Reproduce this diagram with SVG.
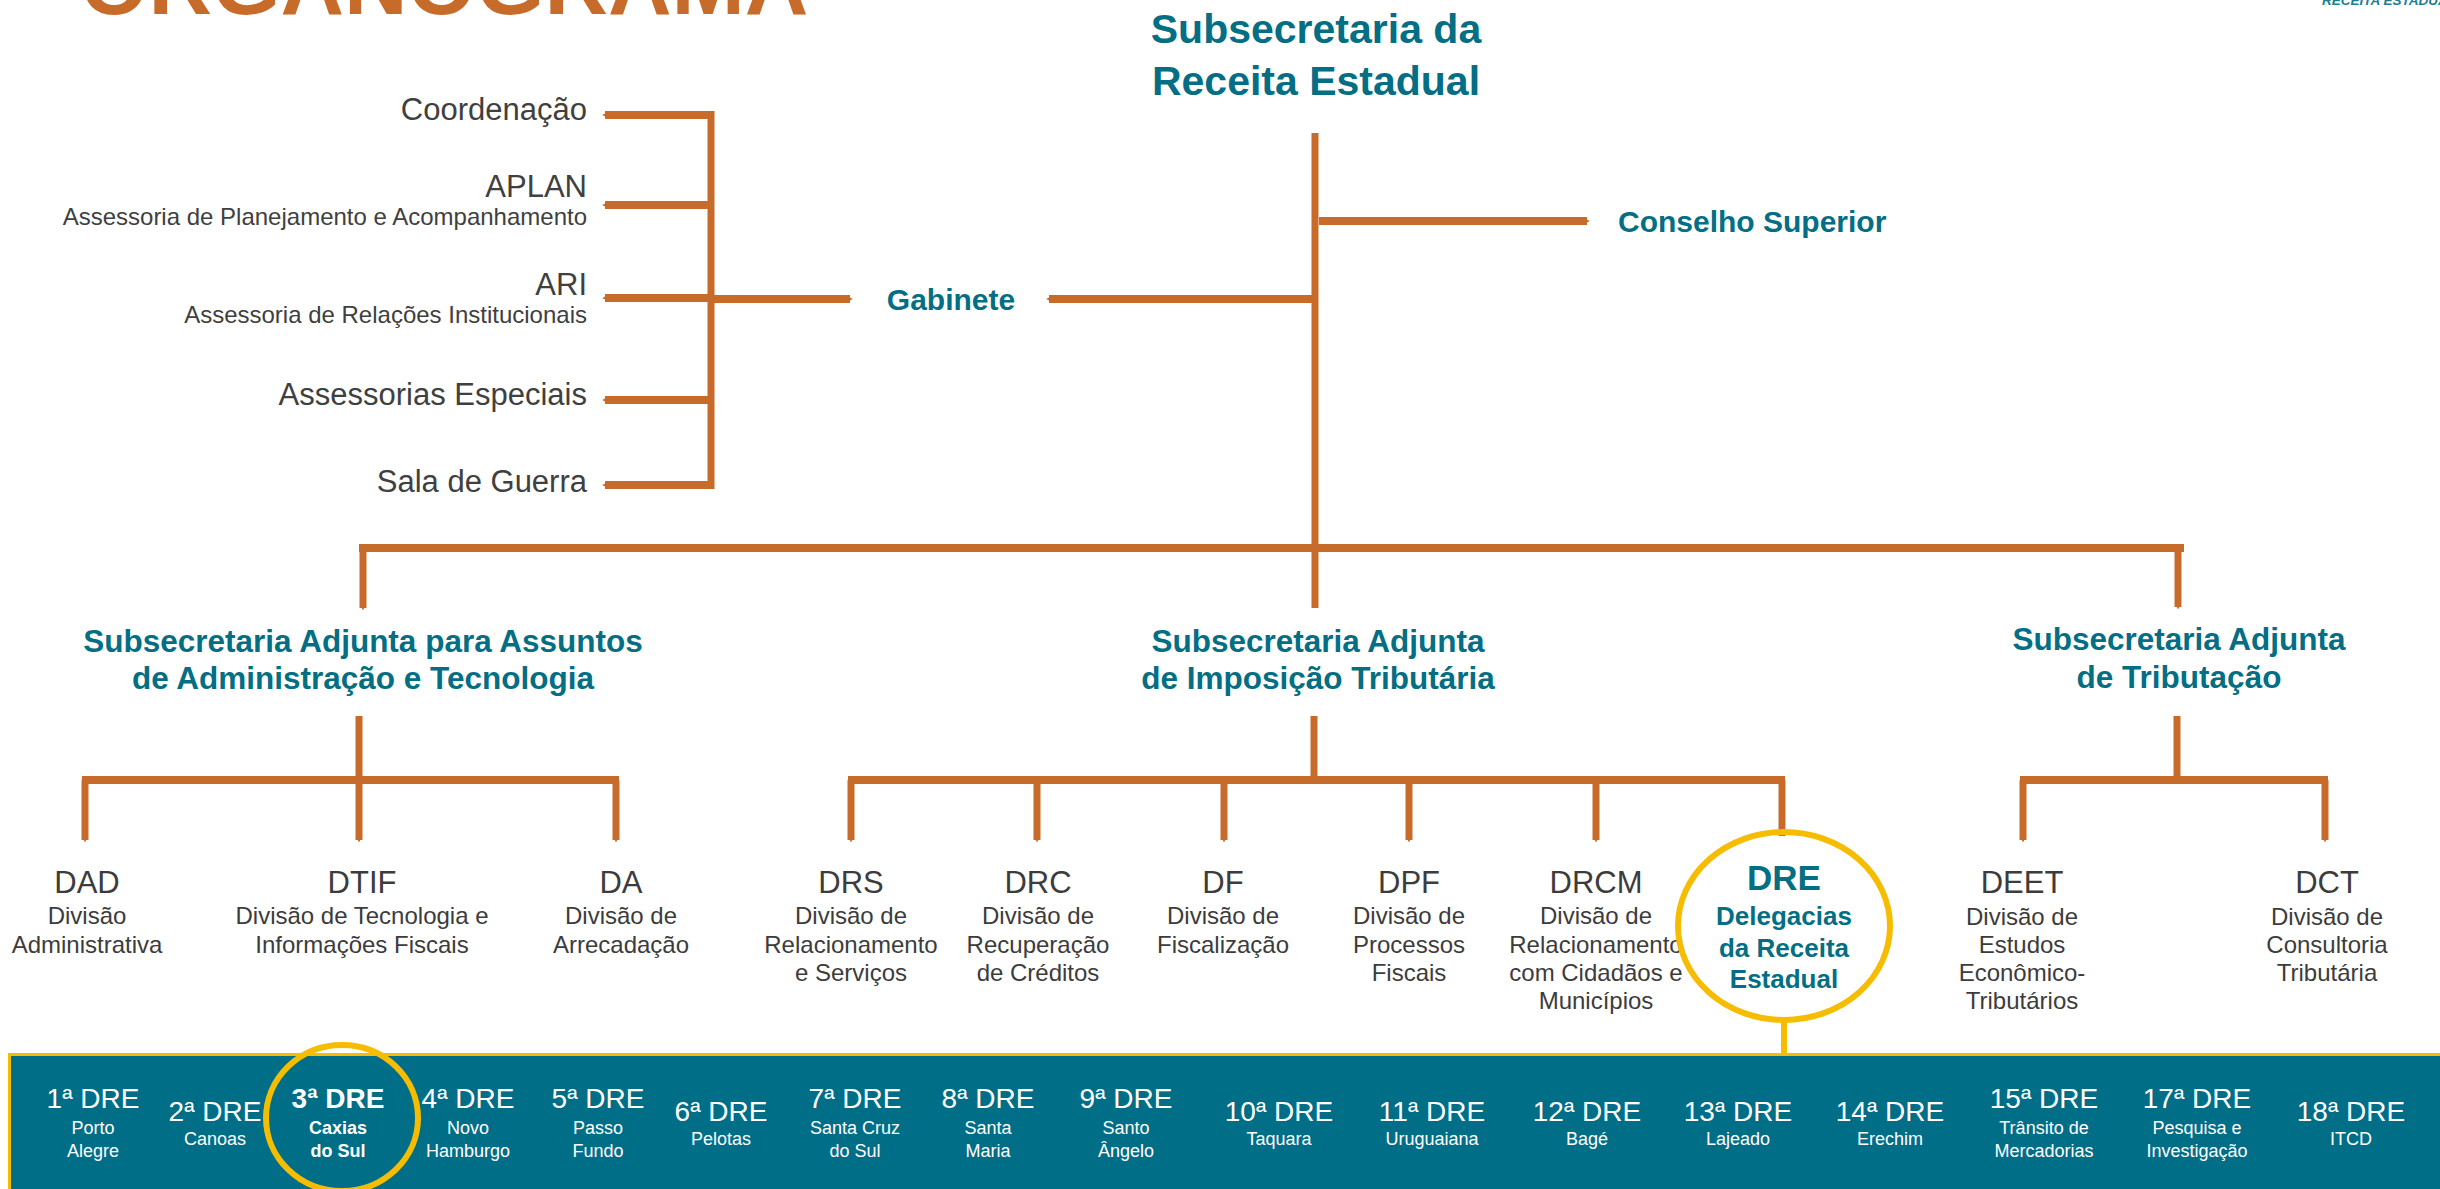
<svg xmlns="http://www.w3.org/2000/svg" width="2440" height="1189" viewBox="0 0 2440 1189">
<style>
.c{fill:none;stroke:#c76b2b;stroke-width:7}
.cb{fill:none;stroke:#c76b2b;stroke-width:8}
.t{font-family:"Liberation Sans",Arial,sans-serif}
.hd{font-family:"Liberation Sans",Arial,sans-serif;font-weight:bold;fill:#046e84;text-anchor:middle}
.gl{font-family:"Liberation Sans",Arial,sans-serif;fill:#404040;text-anchor:end}
.dh{font-family:"Liberation Sans",Arial,sans-serif;fill:#3c3c3c;text-anchor:middle;font-size:31px}
.ds{font-family:"Liberation Sans",Arial,sans-serif;fill:#3c3c3c;text-anchor:middle;font-size:24px}
.bh{font-family:"Liberation Sans",Arial,sans-serif;fill:#ffffff;text-anchor:middle;font-size:28px}
.bs{font-family:"Liberation Sans",Arial,sans-serif;fill:#ffffff;text-anchor:middle;font-size:18px}
.y{fill:none;stroke:#f6bd00;stroke-width:6}
</style>
<defs>
<marker id="tip" viewBox="0 0 1 1" refX="0" refY="0.5" markerWidth="0.35" markerHeight="1" orient="auto" markerUnits="strokeWidth">
<path d="M0,0 L1,0.5 L0,1 z" fill="#c76b2b"/>
</marker>
</defs>
<rect width="2440" height="1189" fill="#ffffff"/>

<g id="title">
<text x="80" y="14" class="t" font-size="88" font-weight="bold" fill="#c76b2b">ORGANOGRAMA</text>
</g>
<g id="logo">
<text x="2322" y="5" class="t" font-size="13.5" font-weight="bold" font-style="italic" fill="#1a7f92">RECEITA ESTADUAL</text>
</g>

<g id="connectors">
<path class="c" d="M1315,133 V608"/>
<path class="cb" d="M1319,221 H1587" marker-end="url(#tip)"/>
<path class="cb" d="M1315,299 H1049" marker-end="url(#tip)"/>
<path class="cb" d="M711,299 H850" marker-end="url(#tip)"/>
<path class="c" d="M711,111 V489"/>
<path class="cb" d="M711,115 H605" marker-end="url(#tip)"/>
<path class="cb" d="M711,205 H605" marker-end="url(#tip)"/>
<path class="cb" d="M711,298 H605" marker-end="url(#tip)"/>
<path class="cb" d="M711,400 H605" marker-end="url(#tip)"/>
<path class="cb" d="M711,485 H605" marker-end="url(#tip)"/>
<path class="cb" d="M359,548 H2184"/>
<path class="c" d="M363,548 V608" marker-end="url(#tip)"/>
<path class="c" d="M2178,548 V607" marker-end="url(#tip)"/>

<path class="c" d="M359,716 V840" marker-end="url(#tip)"/>
<path class="cb" d="M82,780 H619"/>
<path class="c" d="M85,780 V840" marker-end="url(#tip)"/>
<path class="c" d="M616,780 V840" marker-end="url(#tip)"/>

<path class="c" d="M1314,716 V780"/>
<path class="cb" d="M848,780 H1785"/>
<path class="c" d="M851,780 V840" marker-end="url(#tip)"/>
<path class="c" d="M1037,780 V840" marker-end="url(#tip)"/>
<path class="c" d="M1224,780 V840" marker-end="url(#tip)"/>
<path class="c" d="M1409,780 V840" marker-end="url(#tip)"/>
<path class="c" d="M1596,780 V840" marker-end="url(#tip)"/>
<path class="c" d="M1782,780 V836"/>

<path class="c" d="M2177,716 V780"/>
<path class="cb" d="M2020,780 H2328"/>
<path class="c" d="M2023,780 V840" marker-end="url(#tip)"/>
<path class="c" d="M2325,780 V840" marker-end="url(#tip)"/>

<path class="y" d="M1784,1020 V1055"/>
</g>

<g id="n-srE">
<text class="hd" font-size="41" x="1316" y="43">Subsecretaria da</text>
<text class="hd" font-size="41" x="1316" y="95">Receita Estadual</text>
</g>
<g id="n-conselho">
<text class="t" font-size="30" font-weight="bold" fill="#046e84" x="1618" y="232">Conselho Superior</text>
</g>
<g id="n-gabinete">
<text class="hd" font-size="30" x="951" y="310">Gabinete</text>
</g>
<g id="n-coord"><text class="gl" font-size="31" x="587" y="120">Coordenação</text></g>
<g id="n-aplan">
<text class="gl" font-size="31" x="587" y="197">APLAN</text>
<text class="gl" font-size="24" x="587" y="225">Assessoria de Planejamento e Acompanhamento</text>
</g>
<g id="n-ari">
<text class="gl" font-size="31" x="587" y="295">ARI</text>
<text class="gl" font-size="24" x="587" y="323">Assessoria de Relações Institucionais</text>
</g>
<g id="n-ae"><text class="gl" font-size="31" x="587" y="405">Assessorias Especiais</text></g>
<g id="n-sg"><text class="gl" font-size="31" x="587" y="492">Sala de Guerra</text></g>

<g id="n-saat">
<text class="hd" font-size="31.5" x="363" y="652">Subsecretaria Adjunta para Assuntos</text>
<text class="hd" font-size="31.5" x="363" y="689">de Administração e Tecnologia</text>
</g>
<g id="n-sait">
<text class="hd" font-size="31.5" x="1318" y="652">Subsecretaria Adjunta</text>
<text class="hd" font-size="31.5" x="1318" y="689">de Imposição Tributária</text>
</g>
<g id="n-sat">
<text class="hd" font-size="31.5" x="2179" y="650">Subsecretaria Adjunta</text>
<text class="hd" font-size="31.5" x="2179" y="688">de Tributação</text>
</g>

<g id="n-dad"><text class="dh" x="87" y="893">DAD</text><text class="ds" x="87" y="924">Divisão</text><text class="ds" x="87" y="953">Administrativa</text></g>
<g id="n-dtif"><text class="dh" x="362" y="893">DTIF</text><text class="ds" x="362" y="924">Divisão de Tecnologia e</text><text class="ds" x="362" y="953">Informações Fiscais</text></g>
<g id="n-da"><text class="dh" x="621" y="893">DA</text><text class="ds" x="621" y="924">Divisão de</text><text class="ds" x="621" y="953">Arrecadação</text></g>
<g id="n-drs"><text class="dh" x="851" y="893">DRS</text><text class="ds" x="851" y="924">Divisão de</text><text class="ds" x="851" y="953">Relacionamento</text><text class="ds" x="851" y="981">e Serviços</text></g>
<g id="n-drc"><text class="dh" x="1038" y="893">DRC</text><text class="ds" x="1038" y="924">Divisão de</text><text class="ds" x="1038" y="953">Recuperação</text><text class="ds" x="1038" y="981">de Créditos</text></g>
<g id="n-df"><text class="dh" x="1223" y="893">DF</text><text class="ds" x="1223" y="924">Divisão de</text><text class="ds" x="1223" y="953">Fiscalização</text></g>
<g id="n-dpf"><text class="dh" x="1409" y="893">DPF</text><text class="ds" x="1409" y="924">Divisão de</text><text class="ds" x="1409" y="953">Processos</text><text class="ds" x="1409" y="981">Fiscais</text></g>
<g id="n-drcm"><text class="dh" x="1596" y="893">DRCM</text><text class="ds" x="1596" y="924">Divisão de</text><text class="ds" x="1596" y="953">Relacionamento</text><text class="ds" x="1596" y="981">com Cidadãos e</text><text class="ds" x="1596" y="1009">Municípios</text></g>
<g id="n-dre">
<ellipse class="y" cx="1784" cy="926" rx="106" ry="94"/>
<text class="hd" font-size="35" x="1784" y="890">DRE</text>
<text class="hd" font-size="26" x="1784" y="925">Delegacias</text>
<text class="hd" font-size="26" x="1784" y="957">da Receita</text>
<text class="hd" font-size="26" x="1784" y="988">Estadual</text>
</g>
<g id="n-deet"><text class="dh" x="2022" y="893">DEET</text><text class="ds" x="2022" y="925">Divisão de</text><text class="ds" x="2022" y="953">Estudos</text><text class="ds" x="2022" y="981">Econômico-</text><text class="ds" x="2022" y="1009">Tributários</text></g>
<g id="n-dct"><text class="dh" x="2327" y="893">DCT</text><text class="ds" x="2327" y="925">Divisão de</text><text class="ds" x="2327" y="953">Consultoria</text><text class="ds" x="2327" y="981">Tributária</text></g>

<g id="bar">
<rect x="9.5" y="1054.5" width="2440" height="140" fill="#016e88" stroke="#f6bd00" stroke-width="3"/>
</g>
<g id="n-dre1"><text class="bh" x="93" y="1108">1ª DRE</text><text class="bs" x="93" y="1134">Porto</text><text class="bs" x="93" y="1157">Alegre</text></g>
<g id="n-dre2"><text class="bh" x="215" y="1121">2ª DRE</text><text class="bs" x="215" y="1145">Canoas</text></g>
<g id="n-dre3">
<ellipse class="y" cx="342" cy="1118" rx="76" ry="73"/>
<text class="bh" x="338" y="1108" font-weight="bold" fill="#f6bd00">3ª DRE</text>
<text class="bs" x="338" y="1134" font-weight="bold" fill="#f6bd00">Caxias</text>
<text class="bs" x="338" y="1157" font-weight="bold" fill="#f6bd00">do Sul</text>
</g>
<g id="n-dre4"><text class="bh" x="468" y="1108">4ª DRE</text><text class="bs" x="468" y="1134">Novo</text><text class="bs" x="468" y="1157">Hamburgo</text></g>
<g id="n-dre5"><text class="bh" x="598" y="1108">5ª DRE</text><text class="bs" x="598" y="1134">Passo</text><text class="bs" x="598" y="1157">Fundo</text></g>
<g id="n-dre6"><text class="bh" x="721" y="1121">6ª DRE</text><text class="bs" x="721" y="1145">Pelotas</text></g>
<g id="n-dre7"><text class="bh" x="855" y="1108">7ª DRE</text><text class="bs" x="855" y="1134">Santa Cruz</text><text class="bs" x="855" y="1157">do Sul</text></g>
<g id="n-dre8"><text class="bh" x="988" y="1108">8ª DRE</text><text class="bs" x="988" y="1134">Santa</text><text class="bs" x="988" y="1157">Maria</text></g>
<g id="n-dre9"><text class="bh" x="1126" y="1108">9ª DRE</text><text class="bs" x="1126" y="1134">Santo</text><text class="bs" x="1126" y="1157">Ângelo</text></g>
<g id="n-dre10"><text class="bh" x="1279" y="1121">10ª DRE</text><text class="bs" x="1279" y="1145">Taquara</text></g>
<g id="n-dre11"><text class="bh" x="1432" y="1121">11ª DRE</text><text class="bs" x="1432" y="1145">Uruguaiana</text></g>
<g id="n-dre12"><text class="bh" x="1587" y="1121">12ª DRE</text><text class="bs" x="1587" y="1145">Bagé</text></g>
<g id="n-dre13"><text class="bh" x="1738" y="1121">13ª DRE</text><text class="bs" x="1738" y="1145">Lajeado</text></g>
<g id="n-dre14"><text class="bh" x="1890" y="1121">14ª DRE</text><text class="bs" x="1890" y="1145">Erechim</text></g>
<g id="n-dre15"><text class="bh" x="2044" y="1108">15ª DRE</text><text class="bs" x="2044" y="1134">Trânsito de</text><text class="bs" x="2044" y="1157">Mercadorias</text></g>
<g id="n-dre17"><text class="bh" x="2197" y="1108">17ª DRE</text><text class="bs" x="2197" y="1134">Pesquisa e</text><text class="bs" x="2197" y="1157">Investigação</text></g>
<g id="n-dre18"><text class="bh" x="2351" y="1121">18ª DRE</text><text class="bs" x="2351" y="1145">ITCD</text></g>
</svg>
